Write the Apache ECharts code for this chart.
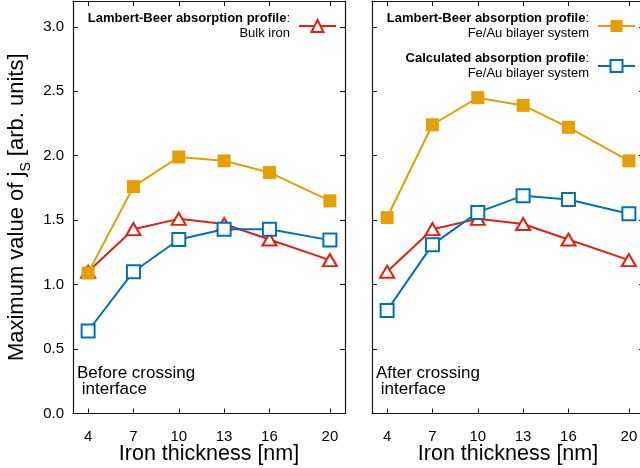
<!DOCTYPE html>
<html>
<head>
<meta charset="utf-8">
<script src="https://cdn.jsdelivr.net/npm/echarts@6/dist/echarts.min.js"></script>
<style>
  html, body { margin: 0; padding: 0; background: #fff; }
  #chart { width: 640px; height: 468px; }
</style>
</head>
<body>
<div id="chart"></div>
<script>
// iron layer thickness [nm]
const thickness = [4, 7, 10, 13, 16, 20];
const yTicks = [0, 0.5, 1.0, 1.5, 2.0, 2.5, 3.0];

// Lambert-Beer, bulk iron (same in both panels)
const bulkIron = [1.10, 1.43, 1.51, 1.47, 1.35, 1.19];
// before crossing interface
const lbBefore = [1.09, 1.76, 1.99, 1.96, 1.87, 1.65];
const calcBefore = [0.64, 1.10, 1.35, 1.43, 1.43, 1.345];
// after crossing interface
const lbAfter = [1.52, 2.24, 2.45, 2.39, 2.22, 1.96];
const calcAfter = [0.80, 1.31, 1.56, 1.69, 1.66, 1.55];

const FONT = 'Liberation Sans, Arial, sans-serif';
const AX = '#1a1a1a';
const RED = '#e51e10', ORANGE = '#e69f00', BLUE = '#0072b2';

function pairs(ys) {
  return thickness.map((x, i) => [x, ys[i]]);
}

function xAxis(gridIndex, position, showLabels) {
  return {
    type: 'value', gridIndex: gridIndex, position: position,
    min: 3, max: 21,
    name: showLabels ? 'Iron thickness [nm]' : '',
    nameLocation: 'middle', nameGap: 30, nameMoveOverlap: false,
    nameTextStyle: { fontSize: 21.5, color: '#000', fontFamily: FONT },
    axisLine: { show: true, onZero: false, lineStyle: { color: AX, width: 1.2 } },
    axisTick: { show: true, inside: true, length: 5, customValues: thickness, lineStyle: { color: AX } },
    axisLabel: { show: showLabels, customValues: thickness, fontSize: 15, color: '#000', fontFamily: FONT, margin: 16 },
    splitLine: { show: false }
  };
}

function yAxis(gridIndex, position, showLabels) {
  return {
    type: 'value', gridIndex: gridIndex, position: position,
    min: 0, max: 3.2,
    name: showLabels ? '{a|Maximum value of j}{s|S}{a| [arb. units]}' : '',
    nameLocation: 'middle', nameGap: 40, nameMoveOverlap: false,
    nameTextStyle: {
      color: '#000', fontFamily: FONT,
      rich: {
        a: { fontSize: 22, lineHeight: 32, verticalAlign: 'middle', color: '#000', fontFamily: FONT },
        s: { fontSize: 14, lineHeight: 15, verticalAlign: 'bottom', color: '#000', fontFamily: FONT }
      }
    },
    axisLine: { show: true, onZero: false, lineStyle: { color: AX, width: 1.2 } },
    axisTick: { show: true, inside: true, length: 5, customValues: yTicks, lineStyle: { color: AX } },
    axisLabel: {
      show: showLabels, customValues: yTicks, fontSize: 15, color: '#000', fontFamily: FONT, margin: 9,
      formatter: v => v.toFixed(1)
    },
    splitLine: { show: false }
  };
}

function lineSeries(name, data, color, symbol, size, gridIndex) {
  return {
    name: name, type: 'line',
    xAxisIndex: gridIndex * 2, yAxisIndex: gridIndex * 2,
    data: pairs(data),
    symbol: symbol, symbolSize: size,
    showAllSymbol: true,
    lineStyle: { color: color, width: 2 },
    itemStyle: { color: color, borderWidth: 2 },
    emphasis: { disabled: true },
    animation: false
  };
}

const legendRich = {
  b: { fontSize: 13, fontWeight: 'bold', color: '#000', fontFamily: FONT, lineHeight: 15 },
  r: { fontSize: 13, color: '#000', fontFamily: FONT, lineHeight: 15 }
};
const legendText = {
  'Bulk iron': '{b|Lambert-Beer absorption profile}{r|:}\n{r|Bulk iron}',
  'LB Fe/Au': '{b|Lambert-Beer absorption profile}{r|:}\n{r|Fe/Au bilayer system}',
  'Calc Fe/Au': '{b|Calculated absorption profile}{r|:}\n{r|Fe/Au bilayer system}'
};

const chart = echarts.init(document.getElementById('chart'), null, { renderer: 'canvas' });

chart.setOption({
  backgroundColor: '#fff',
  animation: false,
  grid: [
    { left: 73, top: 1, width: 272, height: 412.5, outerBoundsMode: 'none' },
    { left: 372, top: 1, width: 272, height: 412.5, outerBoundsMode: 'none' }
  ],
  xAxis: [
    xAxis(0, 'bottom', true), xAxis(0, 'top', false),
    xAxis(1, 'bottom', true), xAxis(1, 'top', false)
  ],
  yAxis: [
    yAxis(0, 'left', true), yAxis(0, 'right', false),
    yAxis(1, 'left', false), yAxis(1, 'right', false)
  ],
  legend: [
    {
      data: ['Bulk iron'], orient: 'vertical', align: 'right',
      right: 303, top: 12, padding: 0, itemWidth: 37, itemHeight: 15,
      selectedMode: false,
      formatter: name => legendText[name],
      textStyle: { padding: [0, 4, 0, 0], rich: legendRich }
    },
    {
      data: ['LB Fe/Au', 'Calc Fe/Au'], orient: 'vertical', align: 'right',
      right: 4, top: 12, padding: 0, itemWidth: 37, itemHeight: 15, itemGap: 12,
      selectedMode: false,
      formatter: name => legendText[name],
      textStyle: { padding: [0, 4, 0, 0], rich: legendRich }
    }
  ],
  graphic: [
    { type: 'text', left: 77, top: 365, style: { text: 'Before crossing\n interface', font: '17px ' + FONT, fill: '#000', lineHeight: 16 } },
    { type: 'text', left: 376, top: 365, style: { text: 'After crossing\n interface', font: '17px ' + FONT, fill: '#000', lineHeight: 16 } }
  ],
  series: [
    lineSeries('Bulk iron', bulkIron, RED, 'emptyTriangle', [14, 12], 0),
    lineSeries('LB Fe/Au', lbBefore, ORANGE, 'rect', 13, 0),
    lineSeries('Calc Fe/Au', calcBefore, BLUE, 'emptyRect', 13, 0),
    lineSeries('Bulk iron', bulkIron, RED, 'emptyTriangle', [14, 12], 1),
    lineSeries('LB Fe/Au', lbAfter, ORANGE, 'rect', 13, 1),
    lineSeries('Calc Fe/Au', calcAfter, BLUE, 'emptyRect', 13, 1)
  ]
});
</script>
</body>
</html>
